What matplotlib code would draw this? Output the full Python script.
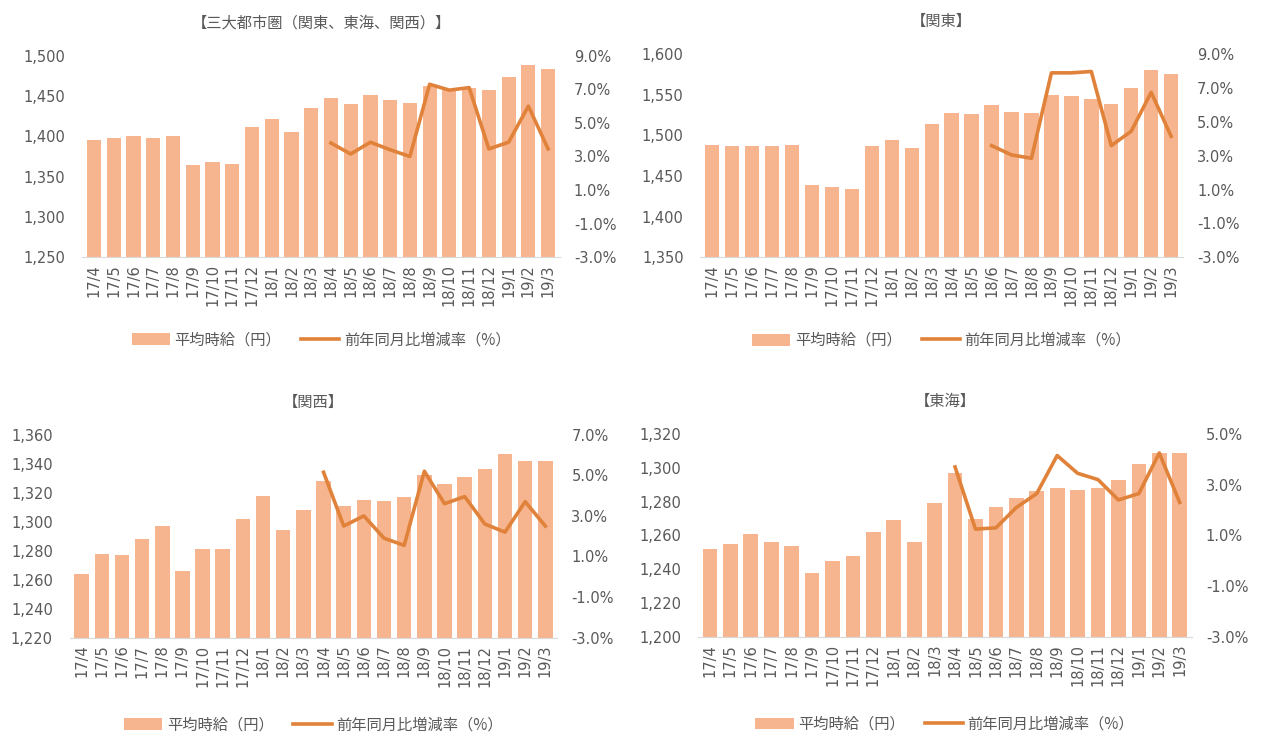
import matplotlib
matplotlib.use('Agg')
import matplotlib.pyplot as plt
import matplotlib.ticker as mticker
from matplotlib.patches import Patch
from matplotlib.lines import Line2D
import numpy as np

plt.rcParams['font.family'] = ['DejaVu Sans', 'Noto Sans CJK JP']

# 月ラベル
months = ['17/4', '17/5', '17/6', '17/7', '17/8', '17/9', '17/10', '17/11',
          '17/12', '18/1', '18/2', '18/3', '18/4', '18/5', '18/6', '18/7',
          '18/8', '18/9', '18/10', '18/11', '18/12', '19/1', '19/2', '19/3']

# 三大都市圏
wage_all = [1396, 1398, 1400, 1398, 1401, 1365, 1368, 1366, 1411, 1421, 1406, 1435,
            1447, 1440, 1451, 1445, 1441, 1462, 1457, 1460, 1457, 1473, 1488, 1483]
yoy_all = [None] * 12 + [3.8, 3.15, 3.85, 3.4, 3.0, 7.3, 6.95, 7.1, 3.45, 3.85, 6.0, 3.45]

# 関東
wage_kanto = [1488, 1487, 1487, 1487, 1488, 1439, 1437, 1434, 1487, 1495, 1484, 1514,
              1528, 1526, 1537, 1529, 1528, 1550, 1548, 1545, 1539, 1558, 1580, 1576]
yoy_kanto = [None] * 14 + [3.6, 3.05, 2.85, 7.9, 7.9, 7.98, 3.6, 4.45, 6.75, 4.15]

# 関西
wage_kansai = [1264, 1278, 1277, 1288, 1297, 1266, 1281, 1281, 1302, 1318, 1294, 1308,
               1328, 1311, 1315, 1314, 1317, 1332, 1326, 1331, 1336, 1347, 1342, 1342]
yoy_kansai = [None] * 12 + [5.15, 2.5, 3.0, 1.9, 1.55, 5.2, 3.6, 3.95, 2.6, 2.2, 3.7, 2.5]

# 東海
wage_tokai = [1252, 1255, 1261, 1256, 1254, 1238, 1245, 1248, 1262, 1269, 1256, 1279,
              1297, 1270, 1277, 1282, 1286, 1288, 1287, 1288, 1293, 1302, 1309, 1309]
yoy_tokai = [None] * 12 + [3.7, 1.25, 1.3, 2.1, 2.65, 4.15, 3.45, 3.2, 2.4, 2.65, 4.25, 2.3]

BAR_COLOR = '#F7B58F'
LINE_COLOR = '#E0823A'
TEXT_COLOR = '#595959'


def draw_panel(fig, rect, title, wages, yoy, ylim, ystep, rlim, leg_y):
    """棒グラフ（平均時給）と折れ線（前年同月比）を描く。"""
    ax = fig.add_axes(rect)
    x = np.arange(len(months))
    ax.bar(x, wages, width=0.72, color=BAR_COLOR, zorder=2)
    ax.set_xlim(-0.6, len(months) - 0.4)
    ax.set_ylim(*ylim)
    ax.set_yticks(np.arange(ylim[0], ylim[1] + 1, ystep))
    ax.yaxis.set_major_formatter(mticker.FuncFormatter(lambda v, p: f'{int(v):,}'))
    ax.set_xticks(x)
    ax.set_xticklabels(months, rotation=90)

    ax2 = ax.twinx()
    vals = np.array([np.nan if v is None else v for v in yoy], dtype=float)
    ax2.plot(x, vals, color=LINE_COLOR, linewidth=2.6, zorder=3)
    ax2.set_ylim(*rlim)
    ax2.set_yticks(np.arange(rlim[0], rlim[1] + 0.1, 2))
    ax2.yaxis.set_major_formatter(mticker.FuncFormatter(lambda v, p: f'{v:.1f}%'))

    for a in (ax, ax2):
        for s in a.spines.values():
            s.set_visible(False)
        a.tick_params(length=0, colors=TEXT_COLOR, labelsize=10.5)
    ax.spines['bottom'].set_visible(True)
    ax.spines['bottom'].set_color('#D9D9D9')
    ax.tick_params(axis='y', pad=12)
    ax.tick_params(axis='x', pad=5)
    ax2.tick_params(axis='y', pad=10)

    ax.set_title(title, fontsize=11, color=TEXT_COLOR,
                 family=['Noto Sans CJK JP'], pad=20)

    handles = [Patch(facecolor=BAR_COLOR, edgecolor='none'),
               Line2D([0], [0], color=LINE_COLOR, linewidth=2.6)]
    leg = ax.legend(handles, ['平均時給（円）', '前年同月比増減率（%）'],
                    loc='center', bbox_to_anchor=(0.5, leg_y), ncol=2,
                    frameon=False, handlelength=2.5, handleheight=0.8,
                    columnspacing=1.3, handletextpad=0.3,
                    prop={'family': ['Noto Sans CJK JP'], 'size': 11})
    for t in leg.get_texts():
        t.set_color(TEXT_COLOR)
    return ax


fig = plt.figure(figsize=(12.64, 7.33), dpi=100)

draw_panel(fig, [0.065, 0.649, 0.378, 0.275], '【三大都市圏（関東、東海、関西）】',
           wage_all, yoy_all, (1250, 1500), 50, (-3, 9), -0.41)
draw_panel(fig, [0.554, 0.649, 0.382, 0.277], '【関東】',
           wage_kanto, yoy_kanto, (1350, 1600), 50, (-3, 9), -0.41)
draw_panel(fig, [0.055, 0.130, 0.386, 0.277], '【関西】',
           wage_kansai, yoy_kansai, (1220, 1360), 20, (-3, 7), -0.43)
draw_panel(fig, [0.552, 0.131, 0.391, 0.277], '【東海】',
           wage_tokai, yoy_tokai, (1200, 1320), 20, (-3, 5), -0.43)

fig.savefig('out.png', dpi=100, facecolor='white')
